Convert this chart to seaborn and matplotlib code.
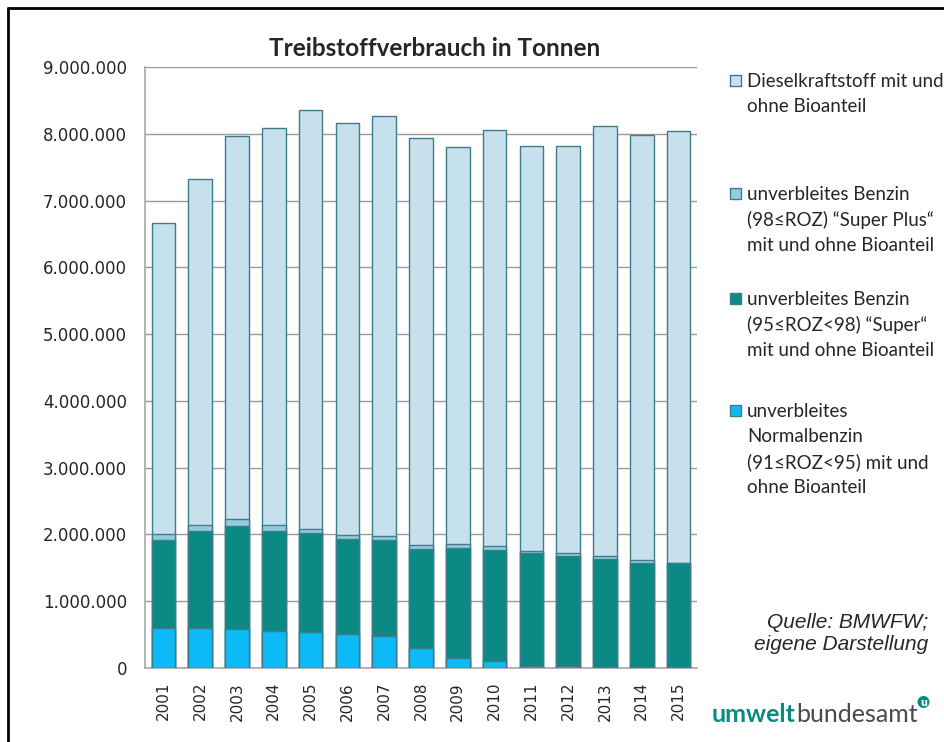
import matplotlib
matplotlib.use("Agg")
import matplotlib.pyplot as plt
import seaborn as sns
import numpy as np
from matplotlib.patches import Rectangle, Circle
from matplotlib.lines import Line2D
from matplotlib.ticker import FuncFormatter, MultipleLocator

# Jahre
jahre = ["2001", "2002", "2003", "2004", "2005", "2006", "2007", "2008",
         "2009", "2010", "2011", "2012", "2013", "2014", "2015"]

# Treibstoffverbrauch in Tonnen
normalbenzin = [594000, 604000, 589000, 559000, 539000, 504000, 474000, 304000,
                145000, 105000, 35000, 25000, 15000, 12000, 8000]
super_95 = [1323000, 1446000, 1541000, 1491000, 1478000, 1433000, 1443000, 1483000,
            1652000, 1667000, 1682000, 1655000, 1617000, 1565000, 1559000]
super_plus = [83000, 96000, 96000, 90000, 63000, 53000, 53000, 53000,
              60000, 50000, 40000, 47000, 40000, 40000, 10000]
diesel = [4670000, 5174000, 5744000, 5940000, 6270000, 6170000, 6300000, 6090000,
          5943000, 6228000, 6063000, 6083000, 6448000, 6363000, 6463000]

labels = ["Dieselkraftstoff mit und\nohne Bioanteil",
          "unverbleites Benzin\n(98≤ROZ) “Super Plus“\nmit und ohne Bioanteil",
          "unverbleites Benzin\n(95≤ROZ<98) “Super“\nmit und ohne Bioanteil",
          "unverbleites\nNormalbenzin\n(91≤ROZ<95) mit und\nohne Bioanteil"]
farben = ["#c6e1ec", "#92cddf", "#0b8984", "#0bbaf6"]
rand = "#3f7c8a"

sns.set_style("white")
plt.rcParams['font.family'] = ['DejaVu Sans']

fig = plt.figure(figsize=(9.44, 7.42), dpi=100)
ax = fig.add_axes([145 / 944, 1 - 668 / 742, 552 / 944, 601 / 742])

# gestapelte Balken: kumulierte Summen von oben nach unten zeichnen
serien = [diesel, super_plus, super_95, normalbenzin]
kumuliert = np.cumsum(np.array(serien[::-1]), axis=0)[::-1]
for werte, farbe in zip(kumuliert, farben):
    sns.barplot(x=jahre, y=werte, color=farbe, saturation=1, width=0.64,
                edgecolor=rand, linewidth=1, errorbar=None, ax=ax, zorder=3)

ax.set_ylim(0, 9000000)
ax.set_xlim(-0.5, len(jahre) - 0.5)
ax.yaxis.set_major_locator(MultipleLocator(1000000))
ax.yaxis.set_major_formatter(FuncFormatter(lambda v, p: f"{int(v):,}".replace(",", ".")))
ax.grid(axis="y", color="#9a9a9a", linewidth=1, zorder=0)
ax.set_axisbelow(True)
for s in ["top", "right"]:
    ax.spines[s].set_visible(False)
for s in ["left", "bottom"]:
    ax.spines[s].set_color("#a8a8a8")
    ax.spines[s].set_linewidth(1.2)
ax.tick_params(axis="y", length=0, pad=13, labelsize=12)
ax.tick_params(axis="x", length=0, pad=10, labelsize=11, rotation=90)
ax.set_xlabel("")
ax.set_ylabel("")

# Titel
fig.text(435 / 944, 1 - 48 / 742, "Treibstoffverbrauch in Tonnen", ha="center", va="center",
         fontsize=17.5, fontweight="bold", family=["Lato", "DejaVu Sans"])

# Legende
starts = [80, 193, 298, 410]
for lab, farbe, y0 in zip(labels, farben, starts):
    fig.patches.append(Rectangle((730 / 944, 1 - (y0 + 6) / 742), 11 / 944, 11 / 742,
                                 transform=fig.transFigure, facecolor=farbe,
                                 edgecolor=rand, linewidth=1))
    fig.text(747 / 944, 1 - (y0 - 7) / 742, lab, ha="left", va="top", fontsize=13.5,
             linespacing=1.55, family=["Lato", "DejaVu Sans"])

# Quelle
fig.text(928 / 944, 1 - 634 / 742, "Quelle: BMWFW;\neigene Darstellung", ha="right",
         va="center", fontsize=15, style="italic", linespacing=1.2,
         family=["Liberation Sans", "DejaVu Sans"])

# Logo
t1 = fig.text(712 / 944, 1 - 722 / 742, "umwelt", ha="left", va="baseline", fontsize=18,
              fontweight="bold", color="#0b8984", family=["Lato", "DejaVu Sans"])
fig.canvas.draw()
bb = t1.get_window_extent()
t2 = fig.text(bb.x1 / 944, 1 - 722 / 742, "bundesamt", ha="left", va="baseline", fontsize=18,
              fontweight="normal", color="#4a4a4a", family=["Lato", "DejaVu Sans"])
fig.canvas.draw()
bb2 = t2.get_window_extent()
cx = (bb2.x1 + 6) / 944
fig.patches.append(Circle((bb2.x1 + 6, 742 - 702), 6, transform=None,
                          facecolor="#0b8984", edgecolor="none"))
fig.text(cx, 1 - 703 / 742, "u", ha="center", va="center", fontsize=7,
         fontweight="bold", color="white")

# Rahmen links und oben
fig.add_artist(Line2D([8 / 944, 8 / 944], [0, 1 - 8 / 742], color="black", linewidth=2,
                      transform=fig.transFigure))
fig.add_artist(Line2D([8 / 944, 1], [1 - 8 / 742, 1 - 8 / 742], color="black", linewidth=2,
                      transform=fig.transFigure))

fig.savefig("out.png", dpi=100)
